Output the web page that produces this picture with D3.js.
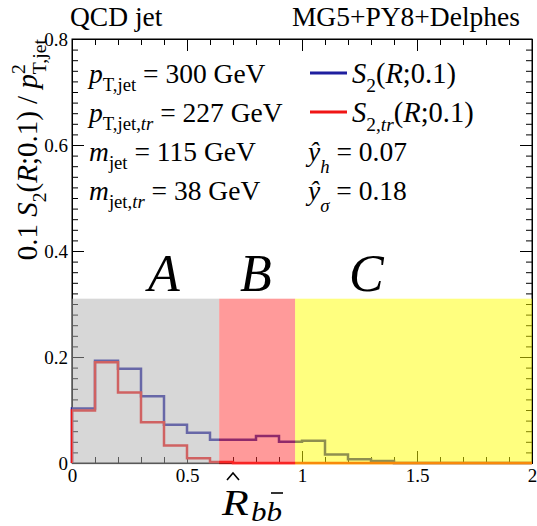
<!DOCTYPE html>
<html>
<head>
<meta charset="utf-8">
<script src="https://cdn.jsdelivr.net/npm/d3@7"></script>
<style>
  body { margin: 0; background: #fff; }
  svg { display: block; }
  .axis path, .axis line { stroke: #000; stroke-width: 1; }
  .axis text { font-size: 19px; fill: #000; }
</style>
</head>
<body>
<svg id="chart" width="537" height="526" font-family="Liberation Serif"></svg>
<script>
// bin lower edges, width 0.1
const binStarts = [0, 0.1, 0.2, 0.3, 0.4, 0.5, 0.6, 0.7, 0.8, 0.9, 1.0, 1.1, 1.2, 1.3, 1.4, 1.5, 1.6, 1.7, 1.8, 1.9];
const binWidth = 0.1;
const s2Values = [0.103, 0.193, 0.178, 0.126, 0.072, 0.057, 0.044, 0.044, 0.051, 0.040, 0.042, 0.016, 0.007, 0.004, 0, 0, 0, 0, 0, 0];
const s2trValues = [0.099, 0.190, 0.133, 0.077, 0.033, 0.009, 0.002, 0, 0, 0, 0, 0, 0, 0, 0, 0, 0, 0, 0, 0];

const regionLabels = ['A', 'B', 'C'];
const regionEdges = [0, 0.64, 0.97, 2];
const regionTop = 0.31;
const regionColors = ['#b0b0b0', '#ff3535', '#ffff00'];
const regionLabelX = [0.40, 0.80, 1.28];

const xTicks = [0, 0.5, 1, 1.5, 2];
const yTicks = [0, 0.2, 0.4, 0.6, 0.8];

const blue = '#1f1f9f';
const red = '#f01515';
const serif = 'Liberation Serif';

const svg = d3.select('#chart');
const x = d3.scaleLinear().domain([0, 2]).range([72, 532]);
const y = d3.scaleLinear().domain([0, 0.8]).range([463, 39]);

// rich text helper: segments {t, it, sub, sup, dx}
function rich(parent, px, py, segs, size, anchor) {
  const text = parent.append('text')
    .attr('x', px).attr('y', py)
    .attr('font-family', serif)
    .attr('font-size', size)
    .attr('text-anchor', anchor || 'start');
  let off = 0;
  segs.forEach(s => {
    const target = s.sub ? size * (s.low || 0.3) : s.sup ? -size * 0.42 : 0;
    const ts = text.append('tspan').attr('dy', target - off).text(s.t);
    off = target;
    if (s.it) ts.attr('font-style', 'italic');
    if (s.sub || s.sup) ts.attr('font-size', size * 0.68);
    if (s.dx) ts.attr('dx', s.dx);
  });
  return text;
}

// frame line
svg.append('rect')
  .attr('x', x(0)).attr('y', y(0.8))
  .attr('width', x(2) - x(0)).attr('height', y(0) - y(0.8))
  .attr('fill', 'none').attr('stroke', '#000');

// axes
const xMinor = d3.range(0, 2.0001, 0.1);
const yMinor = d3.range(0, 0.8001, 0.02);

function axis(gen, tx, ty) {
  return svg.append('g').attr('class', 'axis')
    .attr('transform', `translate(${tx},${ty})`)
    .call(gen)
    .attr('font-family', serif);
}
axis(d3.axisBottom(x).tickValues(xMinor).tickSize(-6).tickSizeOuter(0).tickFormat(''), 0, y(0));
axis(d3.axisBottom(x).tickValues(xTicks).tickSize(-12).tickSizeOuter(0).tickPadding(6).tickFormat(d3.format('~g')), 0, y(0));
axis(d3.axisTop(x).tickValues(xMinor).tickSize(-6).tickSizeOuter(0).tickFormat(''), 0, y(0.8));
axis(d3.axisTop(x).tickValues(xTicks).tickSize(-12).tickSizeOuter(0).tickFormat(''), 0, y(0.8));
axis(d3.axisLeft(y).tickValues(yMinor).tickSize(-6).tickSizeOuter(0).tickFormat(''), x(0), 0);
axis(d3.axisLeft(y).tickValues(yTicks).tickSize(-12).tickSizeOuter(0).tickPadding(4).tickFormat(d3.format('~g')), x(0), 0);
axis(d3.axisRight(y).tickValues(yMinor).tickSize(-6).tickSizeOuter(0).tickFormat(''), x(2), 0);
axis(d3.axisRight(y).tickValues(yTicks).tickSize(-12).tickSizeOuter(0).tickFormat(''), x(2), 0);

// histograms
function steps(values) {
  const pts = [[0, 0]];
  values.forEach((v, i) => pts.push([binStarts[i], v]));
  pts.push([binStarts[binStarts.length - 1] + binWidth, values[values.length - 1]]);
  return pts;
}
const line = d3.line().x(d => x(d[0])).y(d => y(d[1])).curve(d3.curveStepAfter);

svg.append('path').attr('d', line(steps(s2Values)))
  .attr('fill', 'none').attr('stroke', blue).attr('stroke-width', 2.5);
svg.append('path').attr('d', line(steps(s2trValues)))
  .attr('fill', 'none').attr('stroke', red).attr('stroke-width', 2.5);

// shaded regions on top
svg.append('g').selectAll('rect')
  .data(regionLabels)
  .join('rect')
  .attr('x', (d, i) => x(regionEdges[i]))
  .attr('width', (d, i) => x(regionEdges[i + 1]) - x(regionEdges[i]))
  .attr('y', y(regionTop))
  .attr('height', y(0) - y(regionTop) + 1.5)
  .attr('fill', (d, i) => regionColors[i])
  .attr('fill-opacity', 0.5);

svg.append('g').selectAll('text')
  .data(regionLabels)
  .join('text')
  .attr('x', (d, i) => x(regionLabelX[i]))
  .attr('y', 291)
  .attr('text-anchor', 'middle')
  .attr('font-family', serif)
  .attr('font-size', 52)
  .attr('font-style', 'italic')
  .text(d => d);

// titles
svg.append('text').attr('x', 70).attr('y', 26).attr('font-size', 27.5).attr('font-family', serif).text('QCD jet');
svg.append('text').attr('x', 520).attr('y', 26).attr('font-size', 27.5).attr('font-family', serif)
  .attr('text-anchor', 'end').text('MG5+PY8+Delphes');

// y axis title
const yt = svg.append('g').attr('transform', `translate(37,${y(0.8)}) rotate(-90)`);
rich(yt, 0, 0, [
  { t: '0.1 ' }, { t: 'S', it: true }, { t: '2', sub: true }, { t: '(' }, { t: 'R', it: true },
  { t: ';0.1) / ' }, { t: 'p', it: true }, { t: '2', sup: true }, { t: 'T,jet', sub: true, dx: -10 }
], 29, 'end');

// info text
const g = svg.append('g');
const rowY = [83, 122, 161, 200];
rich(g, 89, rowY[0], [{ t: 'p', it: true }, { t: 'T,jet', sub: true }, { t: ' = 300 GeV' }], 27.5);
rich(g, 89, rowY[1], [{ t: 'p', it: true }, { t: 'T,jet,', sub: true }, { t: 'tr', sub: true, it: true }, { t: ' = 227 GeV' }], 27.5);
rich(g, 89, rowY[2], [{ t: 'm', it: true }, { t: 'jet', sub: true }, { t: ' = 115 GeV' }], 27.5);
rich(g, 89, rowY[3], [{ t: 'm', it: true }, { t: 'jet,', sub: true }, { t: 'tr', sub: true, it: true }, { t: ' = 38 GeV' }], 27.5);

// legend
const legendColors = [blue, red];
g.selectAll('line.leg').data(legendColors).join('line')
  .attr('class', 'leg')
  .attr('x1', 310).attr('x2', 347)
  .attr('y1', (d, i) => rowY[i] - 10).attr('y2', (d, i) => rowY[i] - 10)
  .attr('stroke', d => d).attr('stroke-width', 3);
rich(g, 352, rowY[0], [{ t: 'S', it: true }, { t: '2', sub: true }, { t: '(' }, { t: 'R', it: true }, { t: ';0.1)' }], 28.5);
rich(g, 352, rowY[1], [{ t: 'S', it: true }, { t: '2,', sub: true }, { t: 'tr', sub: true, it: true }, { t: '(' }, { t: 'R', it: true }, { t: ';0.1)' }], 28.5);
rich(g, 308, rowY[2], [{ t: 'ŷ', it: true }, { t: 'h', sub: true, it: true, low: 0.45 }, { t: ' = 0.07' }], 27.5);
rich(g, 308, rowY[3], [{ t: 'ŷ', it: true }, { t: 'σ', sub: true, it: true, low: 0.45 }, { t: ' = 0.18' }], 27.5);

// x axis title: R-hat sub b bbar
const xl = svg.append('g').attr('font-family', serif).attr('font-style', 'italic');
xl.append('text').attr('transform', 'translate(222,515) scale(1.25,1)')
  .attr('font-size', 35).text('R');
xl.append('path')
  .attr('d', 'M227,480 L233,473 L239,480')
  .attr('fill', 'none').attr('stroke', '#000').attr('stroke-width', 1.6);
xl.append('text').attr('transform', 'translate(251,521) scale(1.15,1)')
  .attr('font-size', 27).text('bb');
xl.append('line')
  .attr('x1', 271).attr('x2', 283)
  .attr('y1', 493).attr('y2', 493)
  .attr('stroke', '#000').attr('stroke-width', 1.6);
</script>
</body>
</html>
